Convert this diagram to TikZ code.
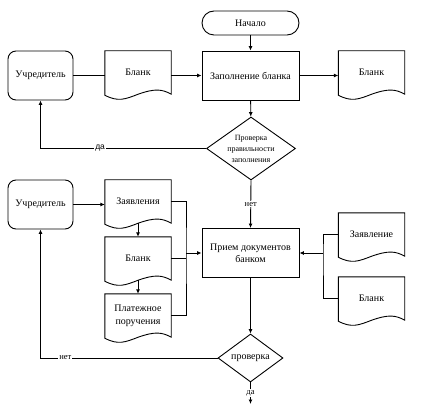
\documentclass[tikz,border=0pt]{standalone}
\usepackage{fontspec}
\setmainfont{Liberation Serif}
\newfontfamily\labelsans{Liberation Sans}
\usepackage{tikz}
\usetikzlibrary{arrows.meta,calc,shapes.geometric}
\definecolor{ink}{RGB}{0,0,0}
\tikzset{
  box/.style={draw=ink,line width=0.9pt,minimum width=97pt,minimum height=49pt,align=center,font=\fontsize{10}{12}\selectfont,inner sep=2pt},
  term/.style={box,rounded corners=12pt,minimum height=24pt},
  actor/.style={box,rounded corners=8pt,minimum width=65pt},
  doc/.style={minimum width=66pt,minimum height=43pt,align=center,font=\fontsize{10}{13}\selectfont,inner sep=1pt},
  decide/.style={draw=ink,line width=0.9pt,diamond,minimum width=89pt,minimum height=63pt,inner sep=-12pt,align=center,font=\fontsize{8}{11}\selectfont},
  decidesmall/.style={decide,minimum width=65pt,minimum height=48pt,inner sep=0pt,font=\fontsize{10}{12}\selectfont},
  link/.style={draw=ink,line width=0.9pt},
  flow/.style={link,-{Latex[length=4.5pt,width=4pt]}},
  tag/.style={fill=white,inner sep=1pt,font=\fontsize{8.5}{10}\selectfont}
}
\begin{document}
\begin{tikzpicture}[x=1pt,y=-1pt]
\useasboundingbox (0,0) rectangle (436,406);
% upper part
\node[term] (start) at (250.5,23) {Начало};
\node[box] (fill) at (250.5,75.5) {Заполнение бланка};
\node[actor] (founder1) at (40.5,75.5) {Учредитель};
\node[doc] (form1) at (138,72.5) {Бланк};
\node[doc] (form2) at (371.5,72.5) {Бланк};
\node[decide] (check1) at (251,148.5) {Проверка\\правильности\\заполнения};
% lower part
\node[actor] (founder2) at (40.5,204.5) {Учредитель};
\node[doc] (apps) at (138,201.5) {Заявления};
\node[doc] (form3) at (138,258.5) {Бланк};
\node[doc] (order) at (138,315.5) {Платежное\\поручения};
\node[box] (accept) at (250.5,253) {Прием документов\\банком};
\node[doc] (app2) at (371.5,234.5) {Заявление};
\node[doc] (form4) at (371.5,298.5) {Бланк};
\node[decidesmall] (check2) at (250.5,358) {проверка};
\coordinate (join) at (186,253);
\coordinate (join2) at (323,253);
\coordinate (exit) at (250.5,404);
% document outlines
\foreach \d in {form1,form2,apps,form3,order,app2,form4}
  \draw[link] (\d.south east) .. controls ($(\d.south east)+(-9,-5)$) and ($(\d.south east)+(-16,-6)$) .. ($(\d.south east)+(-33,0)$)
    .. controls ($(\d.south east)+(-46,5)$) and ($(\d.south east)+(-53,8)$) .. ($(\d.south west)+(0,1)$)
    -- (\d.north west) -- (\d.north east) -- cycle;
% connectors
\draw[flow] (start) -- (fill);
\draw[link] (founder1.east) -- (founder1.east -| form1.west);
\draw[flow] (form1.east |- fill.west) -- (fill.west);
\draw[flow] (fill.east) -- (fill.east -| form2.west);
\draw[flow] (fill) -- (check1);
\draw[flow] (check1.west) -| node[tag,pos=0.32]{\labelsans да} (founder1.south);
\draw[flow] (check1.south) -- node[tag]{нет} (accept.north);
\draw[flow] (founder2.east) -- (founder2.east -| apps.west);
\draw[flow] (apps.south) -- (form3.north);
\draw[flow] (form3.south) -- (order.north);
\draw[link] (apps.east) -| (join) |- (order.east);
\draw[link] (form3.east) -- (form3.east -| join);
\draw[flow] (join) -- (accept.west);
\draw[link] (app2.west) -| (join2) |- (form4.west);
\draw[flow] (join2) -- (accept.east);
\draw[flow] (accept) -- (check2);
\draw[flow] (check2.west) -| node[tag,pos=0.43]{нет} (founder2.south);
\draw[flow] (check2.south) -- node[tag]{да} (exit);
\end{tikzpicture}
\end{document}
